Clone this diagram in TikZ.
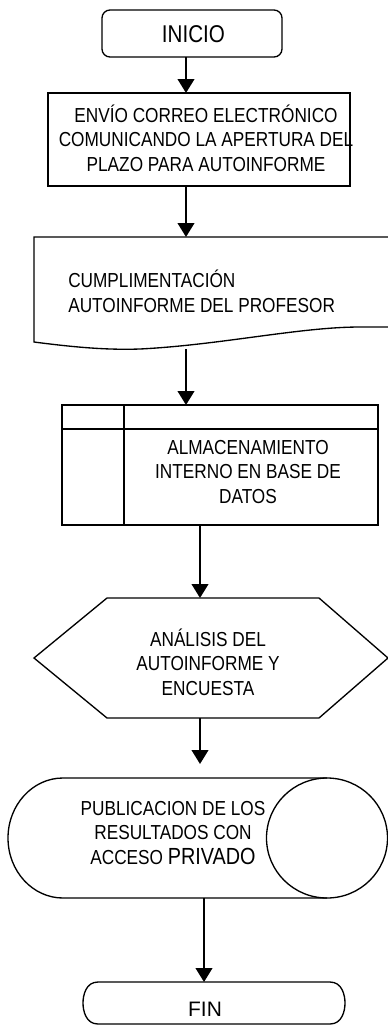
\documentclass[tikz,border=0pt]{standalone}
\usepackage{fontspec}
\setmainfont{Liberation Sans}[FakeStretch=0.85]
\newfontfamily\finfont{Liberation Sans}
\usetikzlibrary{arrows.meta}
\begin{document}
\begin{tikzpicture}[x=0.75pt,y=-0.75pt,
  shapeline/.style={line width=1pt},
  box/.style={draw, line width=1pt, inner sep=0pt, outer sep=0pt},
  txt/.style={inner sep=0pt, align=center, font=\fontsize{15.2}{18.5}\selectfont},
  arr/.style={line width=1.5pt, -{Triangle[width=12.5pt,length=10.5pt]}}]
\useasboundingbox (0,0) rectangle (388,1025);
% INICIO
\node[box, rounded corners=6pt, minimum width=135pt, minimum height=35.25pt] (inicio) at (192,33.5) {};
\node[inner sep=0pt, font=\fontsize{18.2}{20}\selectfont] (iniciot) at (193.5,34) {INICIO};
% ENVIO
\node[box, minimum width=226.5pt, minimum height=69.75pt] (envio) at (199,139.5) {};
\node[txt] (enviot) at (206,138) {ENVÍO CORREO ELECTRÓNICO\\COMUNICANDO LA APERTURA DEL\\PLAZO PARA AUTOINFORME};
% Document
\draw[shapeline] (390,327) -- (360,327) .. controls (300,327) and (220,345) .. (140,349)
  .. controls (110,350) and (80,348) .. (34,342) -- (34,237) -- (390,237);
\coordinate (docT) at (186,237);
\coordinate (docB) at (186,349);
\node[txt, align=left, anchor=west] (cumplt) at (68,291) {CUMPLIMENTACIÓN\\AUTOINFORME DEL PROFESOR};
% Database
\node[box, line width=1.5pt, minimum width=237pt, minimum height=90pt] (db) at (220,465) {};
\draw[line width=1.5pt] (124,405) -- (124,525);
\draw[line width=1.5pt] (62,429) -- (378,429);
\node[txt] (dbt) at (248,472) {ALMACENAMIENTO\\INTERNO EN BASE DE\\DATOS};
% Hexagon
\draw[shapeline] (107,598) -- (319,598) -- (388,658) -- (319,718) -- (107,718) -- (34,658) -- cycle;
\coordinate (hexT) at (200,598);
\coordinate (hexB) at (200,718);
\node[txt] (hext) at (208,662) {ANÁLISIS DEL\\AUTOINFORME Y\\ENCUESTA};
% Publication (stored data / drum)
\draw[shapeline] (327,778) -- (63,778) arc[start angle=270, end angle=90, x radius=55, y radius=60] -- (327,898);
\draw[shapeline] (327,838) ellipse[x radius=60.5, y radius=60];
\coordinate (pubT) at (200,778);
\coordinate (pubB) at (204,898);
\node[txt] (pubt) at (173,833) {PUBLICACION DE LOS\\RESULTADOS CON\\ACCESO {\fontsize{17.5}{18.5}\selectfont PRIVADO}};
% FIN
\draw[shapeline] (98,982) -- (330,982) .. controls (342,982) and (345,995) .. (345,1003)
  .. controls (345,1011) and (342,1024) .. (330,1024) -- (98,1024)
  .. controls (86,1024) and (83,1011) .. (83,1003) .. controls (83,995) and (86,982) .. (98,982) -- cycle;
\coordinate (finT) at (204,982);
\node[inner sep=0pt, font=\finfont\fontsize{15.7}{18}\selectfont] (fint) at (205,1009) {FIN};
% connectors
\draw[arr] (inicio.south -| docT) -- (envio.north -| docT);
\draw[arr] (envio.south -| docT) -- (docT);
\draw[arr] (docB) -- (docB |- db.north);
\draw[arr] (db.south -| hexT) -- (hexT);
\draw[arr, shorten >=10.5pt] (hexB) -- (pubT);
\draw[arr] (pubB) -- (finT);
\end{tikzpicture}
\end{document}
